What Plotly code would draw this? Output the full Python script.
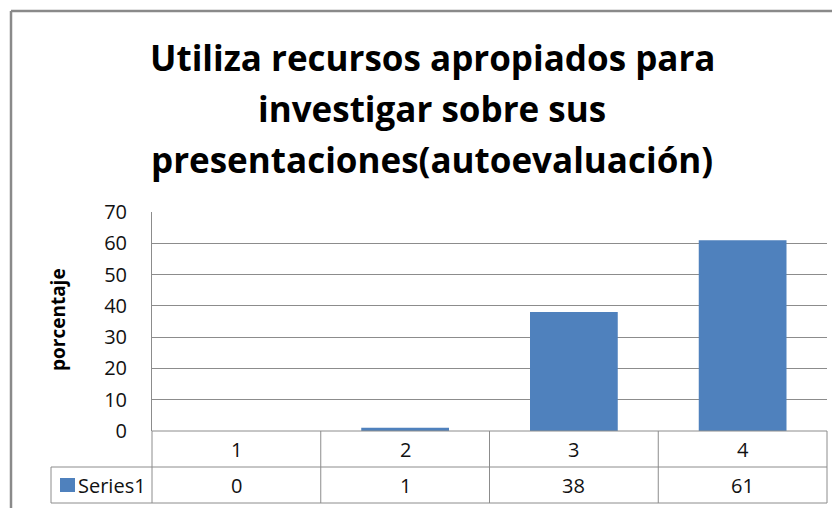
import plotly.graph_objects as go

categories = ["1", "2", "3", "4"]
values = [0, 1, 38, 61]
series_name = "Series1"
title_lines = ["Utiliza recursos apropiados para", "investigar sobre sus", "presentaciones(autoevaluación)"]
y_title = "porcentaje"
y_ticks = [0, 10, 20, 30, 40, 50, 60, 70]

# page body has an 8px margin; work in window pixels and subtract it
OFF = 8
W, H = 840 - OFF, 508 - OFF
L, R, T, B = 152, 827, 212, 431  # plot area in window pixels
PW, PH = R - L, B - T

def px(x):
    return (x - L) / PW

def py(y):
    return (B - y) / PH

FONT = "Open Sans, sans-serif"
BLUE = "#4F81BD"
GRID = "#8C8C8C"

xs = list(range(len(categories)))
fig = go.Figure(go.Bar(x=xs, y=values, width=0.52, marker=dict(color=BLUE, line=dict(width=0)),
                       name=series_name, showlegend=False))

shapes = []
def line(x0, y0, x1, y1, color=GRID, w=1):
    shapes.append(dict(type="line", xref="paper", yref="paper", x0=px(x0), y0=py(y0), x1=px(x1), y1=py(y1),
                       line=dict(color=color, width=w), layer="above"))

# outer chart border (top and left)
line(11, 11, 845, 11, "#8A8A8A", 2.5)
line(11, 11, 11, 515, "#8A8A8A", 2.5)

# data table grid
row1, row2 = 467, 503
n = len(categories)
for i in range(n + 1):
    xb = L + PW * i / n
    line(xb, B, xb, row2)
line(L, B, R, B)
line(51, row1, R, row1)
line(51, row2, R, row2)
line(51, row1, 51, row2)

TF = dict(family=FONT, size=20, color="#111")
annotations = []
for i, (c, v) in enumerate(zip(categories, values)):
    annotations.append(dict(x=i, y=py((B + row1) / 2), xref="x", yref="paper", text=c, showarrow=False,
                            font=TF, xanchor="center", yanchor="middle"))
    annotations.append(dict(x=i, y=py((row1 + row2) / 2), xref="x", yref="paper", text=str(v), showarrow=False,
                            font=TF, xanchor="center", yanchor="middle"))
# legend key in table
shapes.append(dict(type="rect", xref="paper", yref="paper", x0=px(60), x1=px(75), y0=py(492), y1=py(478),
                   fillcolor=BLUE, line=dict(width=0), layer="above"))
annotations.append(dict(x=px(76), y=py((row1 + row2) / 2), xref="paper", yref="paper", text=series_name,
                        showarrow=False, font=TF, xanchor="left", yanchor="middle"))
# y title
annotations.append(dict(x=px(58), y=py(320), xref="paper", yref="paper", text="<b>" + y_title + "</b>",
                        textangle=-90, showarrow=False, font=dict(family=FONT, size=19, color="#000"),
                        xanchor="center", yanchor="middle"))
# title
for k, t in enumerate(title_lines):
    annotations.append(dict(x=px(432), y=py(57 + 51 * k), xref="paper", yref="paper", text="<b>" + t + "</b>",
                            showarrow=False, font=dict(family=FONT, size=35, color="#000"),
                            xanchor="center", yanchor="middle"))

fig.update_layout(
    width=W, height=H,
    margin=dict(l=L - OFF, r=(W + OFF) - R, t=T - OFF, b=(H + OFF) - B, pad=0),
    paper_bgcolor="white", plot_bgcolor="white",
    shapes=shapes, annotations=annotations,
)
fig.update_xaxes(range=[-0.5, n - 0.5], showticklabels=False, showgrid=False, zeroline=False,
                 showline=False, ticks="")
fig.update_yaxes(range=[0, 70], tickvals=y_ticks, showgrid=True, gridcolor=GRID, gridwidth=1,
                 zeroline=False, showline=True, linecolor=GRID, linewidth=1, ticks="",
                 ticklabelstandoff=20, tickfont=dict(family=FONT, size=20, color="#111"))

fig.write_html("out.html")
